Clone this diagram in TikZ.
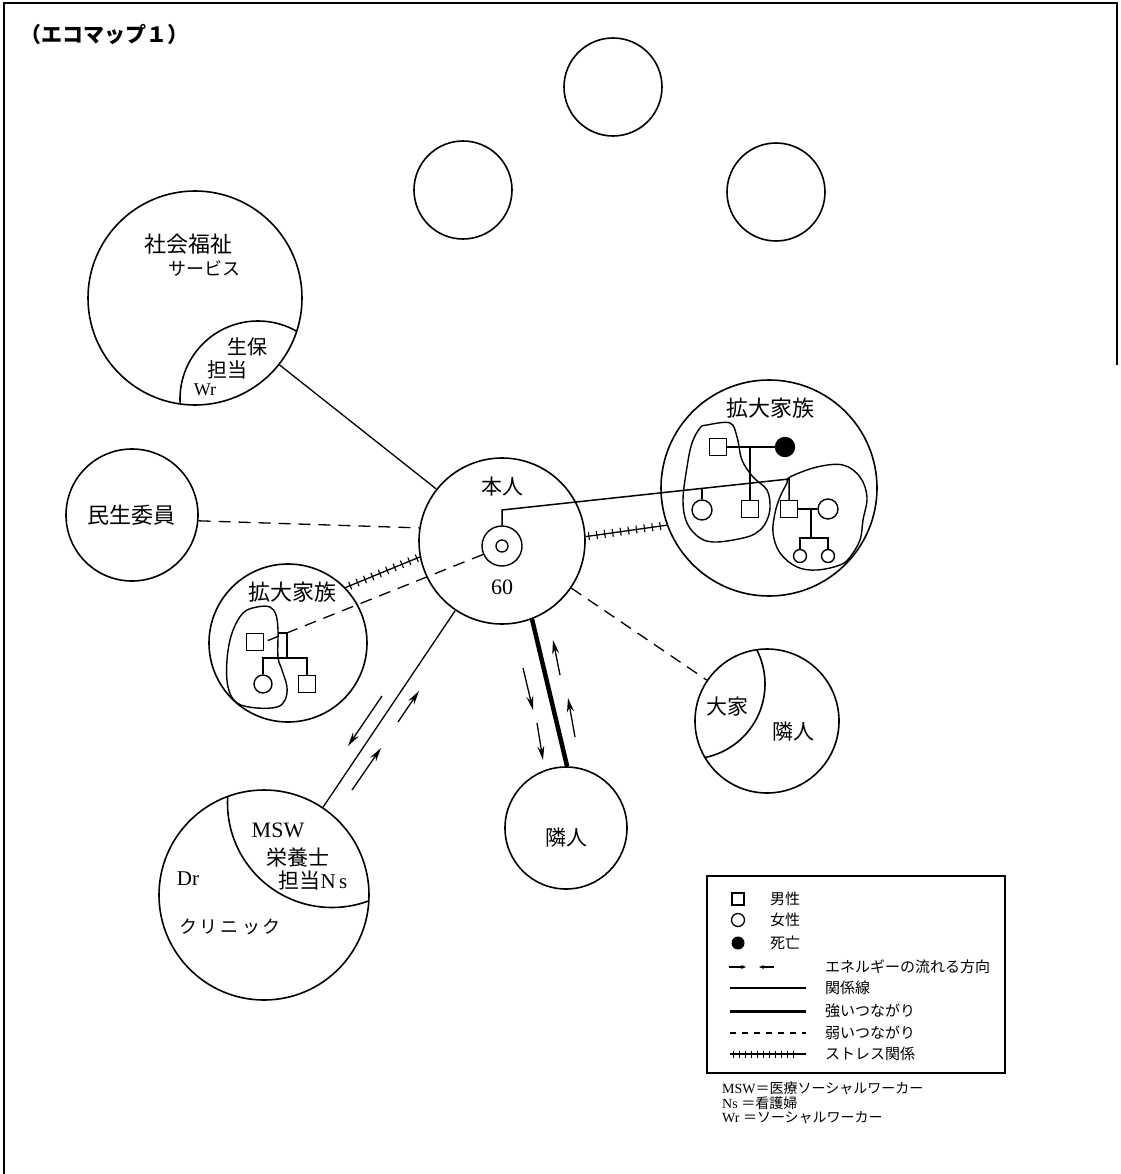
\documentclass[tikz,border=0pt]{standalone}
\usepackage{fontspec}
\setmainfont{Liberation Serif}
\newfontfamily\jp{Noto Sans CJK JP}
\usetikzlibrary{arrows.meta,decorations.markings}
\begin{document}
\begin{tikzpicture}[x=1pt,y=-1pt,
  circ/.style={circle,draw,line width=1.6pt,inner sep=0pt},
  male/.style={rectangle,draw,line width=1.4pt,minimum size=17pt,inner sep=0pt},
  female/.style={circle,draw,line width=1.4pt,minimum size=20pt,inner sep=0pt},
  kid/.style={circle,draw,line width=1.4pt,minimum size=13pt,inner sep=0pt},
  dead/.style={circle,draw,fill=black,line width=1.4pt,minimum size=19pt,inner sep=0pt},
  gline/.style={line width=1.5pt},
  rel/.style={line width=1.3pt},
  strong/.style={line width=4.5pt},
  weak/.style={line width=1.3pt,dash pattern=on 12pt off 8pt},
  stressline/.style={line width=1.3pt,postaction={decorate},
    decoration={markings,mark=between positions 0.04 and 0.97 step 8pt with {\draw[line width=1.1pt] (0,-4pt) -- (0,4pt);}}},
  energy/.style={line width=1.3pt,-{Stealth[length=14pt,width=7pt]}},
  jlab/.style={font=\jp\fontsize{21}{21}\selectfont,inner sep=0pt},
  llab/.style={font=\fontsize{21}{21}\selectfont,inner sep=0pt},
  legtxt/.style={font=\jp\fontsize{15}{15}\selectfont,anchor=west,inner sep=0pt},
  note/.style={font=\fontsize{14}{14}\selectfont,anchor=west,inner sep=0pt}
]
\useasboundingbox (0,0) rectangle (1120,1174);
% frame
\draw[line width=1.4pt] (4,1174) -- (4,3) -- (1117,3) -- (1117,365);

\node[font=\jp\bfseries\fontsize{21}{21}\selectfont,anchor=west,inner sep=0pt] (title) at (20,35) {（エコマップ１）};

% empty circles at top
\node[circ,minimum size=98pt] (t1) at (613,87) {};
\node[circ,minimum size=98pt] (t2) at (463,190) {};
\node[circ,minimum size=98pt] (t3) at (776,192) {};

% social welfare
\node[circ,minimum size=214pt] (sw) at (195,298) {};
\begin{scope}
\clip (195,298) circle (107pt);
\draw[line width=1.6pt] (258,399) circle (78pt);
\end{scope}
\node[jlab,font=\jp\fontsize{22}{22}\selectfont] (swt1) at (188,244) {社会福祉};
\node[jlab,font=\jp\fontsize{18}{18}\selectfont] (swt2) at (204,268) {サービス};
\node[jlab,font=\jp\fontsize{20}{20}\selectfont] (swt3) at (247,347) {生保};
\node[jlab,font=\jp\fontsize{20}{20}\selectfont] (swt4) at (227,370) {担当};
\node[llab,font=\fontsize{18}{18}\selectfont] (swt5) at (205,390) {Wr};

% minsei
\node[circ,minimum size=132pt] (min) at (132,515) {};
\node[jlab,font=\jp\fontsize{22}{22}\selectfont] (mint) at (131,515) {民生委員};

% honnin
\node[circ,minimum size=166pt] (hon) at (502,541) {};
\node[jlab] (hont) at (502,487) {本人};
\node[circle,draw,line width=1.4pt,minimum size=40pt,inner sep=0pt] (ego) at (502,546) {};
\node[circle,draw,line width=1.3pt,minimum size=12pt,inner sep=0pt] (egoin) at (502,546) {};
\node[llab,font=\fontsize{22}{22}\selectfont] (age) at (502,587) {60};

% right extended family
\node[circ,minimum size=216pt] (rf) at (769,488) {};
\node[jlab,font=\jp\fontsize{22}{22}\selectfont] (rft) at (770,408) {拡大家族};
\node[male] (rfgf) at (718,447) {};
\node[dead] (rfgm) at (785,447) {};
\node[male] (rfb1) at (750,509) {};
\node[female] (rfs1) at (702,510) {};
\node[male] (rfb2) at (789,509) {};
\node[female] (rfw) at (828,509) {};
\node[kid] (rfk1) at (800,556) {};
\node[kid] (rfk2) at (828,556) {};
\coordinate (egotop) at (502,510);
\coordinate (sibend) at (789,479);
\coordinate (s1top) at (702,488.4);
\draw[gline] (rfgf.east) -- (rfgm.west);
\draw[gline] (750,447) -- (rfb1.north);
\draw[gline] (ego.north) -- (egotop) -- (sibend) -- (rfb2.north);
\draw[gline] (s1top) -- (rfs1.north);
\draw[gline] (rfb2.east) -- (rfw.west);
\draw[gline] (811,509) -- (811,538);
\draw[gline] (rfk1.north) -- (800,538) -- (828,538) -- (rfk2.north);
\draw[line width=1.4pt] plot[smooth cycle,tension=0.6] coordinates {(707,425) (730,423) (737,437) (742,460) (753,477) (767,490) (770,507) (767,520) (760,530) (747,537) (717,542) (700,538) (687,523) (683,500) (687,467) (692,443) (700,428)};
\draw[line width=1.4pt] plot[smooth cycle,tension=0.6] coordinates {(790,477) (817,467) (843,465) (860,477) (867,497) (863,520) (860,540) (850,557) (840,565) (817,570) (797,567) (780,553) (773,533) (775,513) (780,497) (787,483)};

% left extended family
\node[circ,minimum size=158pt] (lf) at (288,643) {};
\node[jlab,font=\jp\fontsize{22}{22}\selectfont] (lft) at (292,592) {拡大家族};
\node[male] (lfm) at (255,642) {};
\node[female,minimum size=18pt] (lfc1) at (263,684) {};
\node[male] (lfc2) at (307,684) {};
\draw[gline] (278,633) -- (287,633) -- (287,658);
\draw[gline] (lfc1.north) -- (263,658) -- (307,658) -- (lfc2.north);
\draw[line width=1.4pt] plot[smooth cycle,tension=0.6] coordinates {(270,607) (276,615) (278,630) (278,657) (282,670) (287,687) (285,700) (277,707) (257,708) (237,703) (228,687) (227,660) (232,633) (243,613) (257,607)};

% clinic
\node[circ,minimum size=210pt] (cl) at (264,895) {};
\begin{scope}
\clip (264,895) circle (105pt);
\draw[line width=1.6pt] (332,803) circle (104.5pt);
\end{scope}
\node[llab,font=\fontsize{22}{22}\selectfont] (clt1) at (278,830) {MSW};
\node[jlab] (clt2) at (298,858) {栄養士};
\node[llab,font=\fontsize{21}{21}\selectfont] (clt3) at (313,881) {{\jp 担当}N\,s};
\node[llab] (clt4) at (188,879) {Dr};
\node[jlab,font=\jp\fontsize{18}{18}\selectfont] (clt5) at (230,927) {ク\,リ\,ニ\,ッ\,ク};

% neighbour bottom
\node[circ,minimum size=122pt] (nb) at (566,828) {};
\node[jlab] (nbt) at (566,838) {隣人};

% neighbour right
\node[circ,minimum size=144pt] (rn) at (767,721) {};
\begin{scope}
\clip (767,721) circle (72pt);
\draw[line width=1.6pt] (690,684) circle (75pt);
\end{scope}
\node[jlab] (rnt1) at (727,707) {大家};
\node[jlab] (rnt2) at (793,732) {隣人};

% connectors
\draw[rel] (sw) -- (hon);
\draw[weak] (min.-5) -- (hon.171);
\draw[stressline] (hon.3.4) -- (rf.200);
\draw[stressline] (hon.191) -- (lf.44);
\draw[weak] (ego.204) -- (lfm.east);
\draw[weak] (hon) -- (rn);
\draw[rel] (cl) -- (hon);
\draw[strong] (hon.-69.7) -- (nb.89);

% energy arrows
\draw[energy] (382,696) -- (348,746);
\draw[energy] (352,790) -- (381,748);
\draw[energy] (398,722) -- (419,691);
\draw[energy] (523,668) -- (533,710);
\draw[energy] (537,723) -- (543,760);
\draw[energy] (560,675) -- (553,640);
\draw[energy] (575,737) -- (568,698);

% legend
\node[draw,line width=1.4pt,minimum width=298pt,minimum height=197pt,inner sep=0pt] (legend) at (856,974.5) {};
\node[rectangle,draw,line width=1.3pt,minimum size=12pt,inner sep=0pt] (lg1) at (738,899) {};
\node[legtxt] (lg1t) at (770,899) {男性};
\node[circle,draw,line width=1.3pt,minimum size=13pt,inner sep=0pt] (lg2) at (738,920) {};
\node[legtxt] (lg2t) at (770,920) {女性};
\node[circle,fill=black,minimum size=13pt,inner sep=0pt] (lg3) at (738,943) {};
\node[legtxt] (lg3t) at (770,943) {死亡};
\coordinate (la1) at (729,967); \coordinate (la2) at (746,967);
\coordinate (la3) at (774,967); \coordinate (la4) at (759,967);
\draw[line width=1.1pt,-{Stealth[length=5pt,width=4pt]}] (la1) -- (la2);
\draw[line width=1.1pt,-{Stealth[length=5pt,width=4pt]}] (la3) -- (la4);
\node[legtxt] (lg4t) at (825,967) {エネルギーの流れる方向};
\coordinate (lb1) at (730,988); \coordinate (lb2) at (806,988);
\draw[rel] (lb1) -- (lb2);
\node[legtxt] (lg5t) at (825,988) {関係線};
\coordinate (lc1) at (730,1011); \coordinate (lc2) at (806,1011);
\draw[line width=3pt] (lc1) -- (lc2);
\node[legtxt] (lg6t) at (825,1011) {強いつながり};
\coordinate (ld1) at (730,1033); \coordinate (ld2) at (806,1033);
\draw[line width=1.3pt,dash pattern=on 6pt off 6pt] (ld1) -- (ld2);
\node[legtxt] (lg7t) at (825,1033) {弱いつながり};
\coordinate (le1) at (730,1054); \coordinate (le2) at (806,1054);
\draw[line width=1.2pt,postaction={decorate},decoration={markings,mark=between positions 0.04 and 0.9 step 6pt with {\draw[line width=1pt] (0,-3.5pt) -- (0,3.5pt);}}] (le1) -- (le2);
\node[legtxt] (lg8t) at (825,1054) {ストレス関係};

% notes
\node[note] (n1) at (722,1088) {MSW{\jp ＝医療ソーシャルワーカー}};
\node[note] (n2) at (722,1103) {Ns {\jp ＝看護婦}};
\node[note] (n3) at (722,1118) {Wr {\jp ＝ソーシャルワーカー}};
\end{tikzpicture}
\end{document}
